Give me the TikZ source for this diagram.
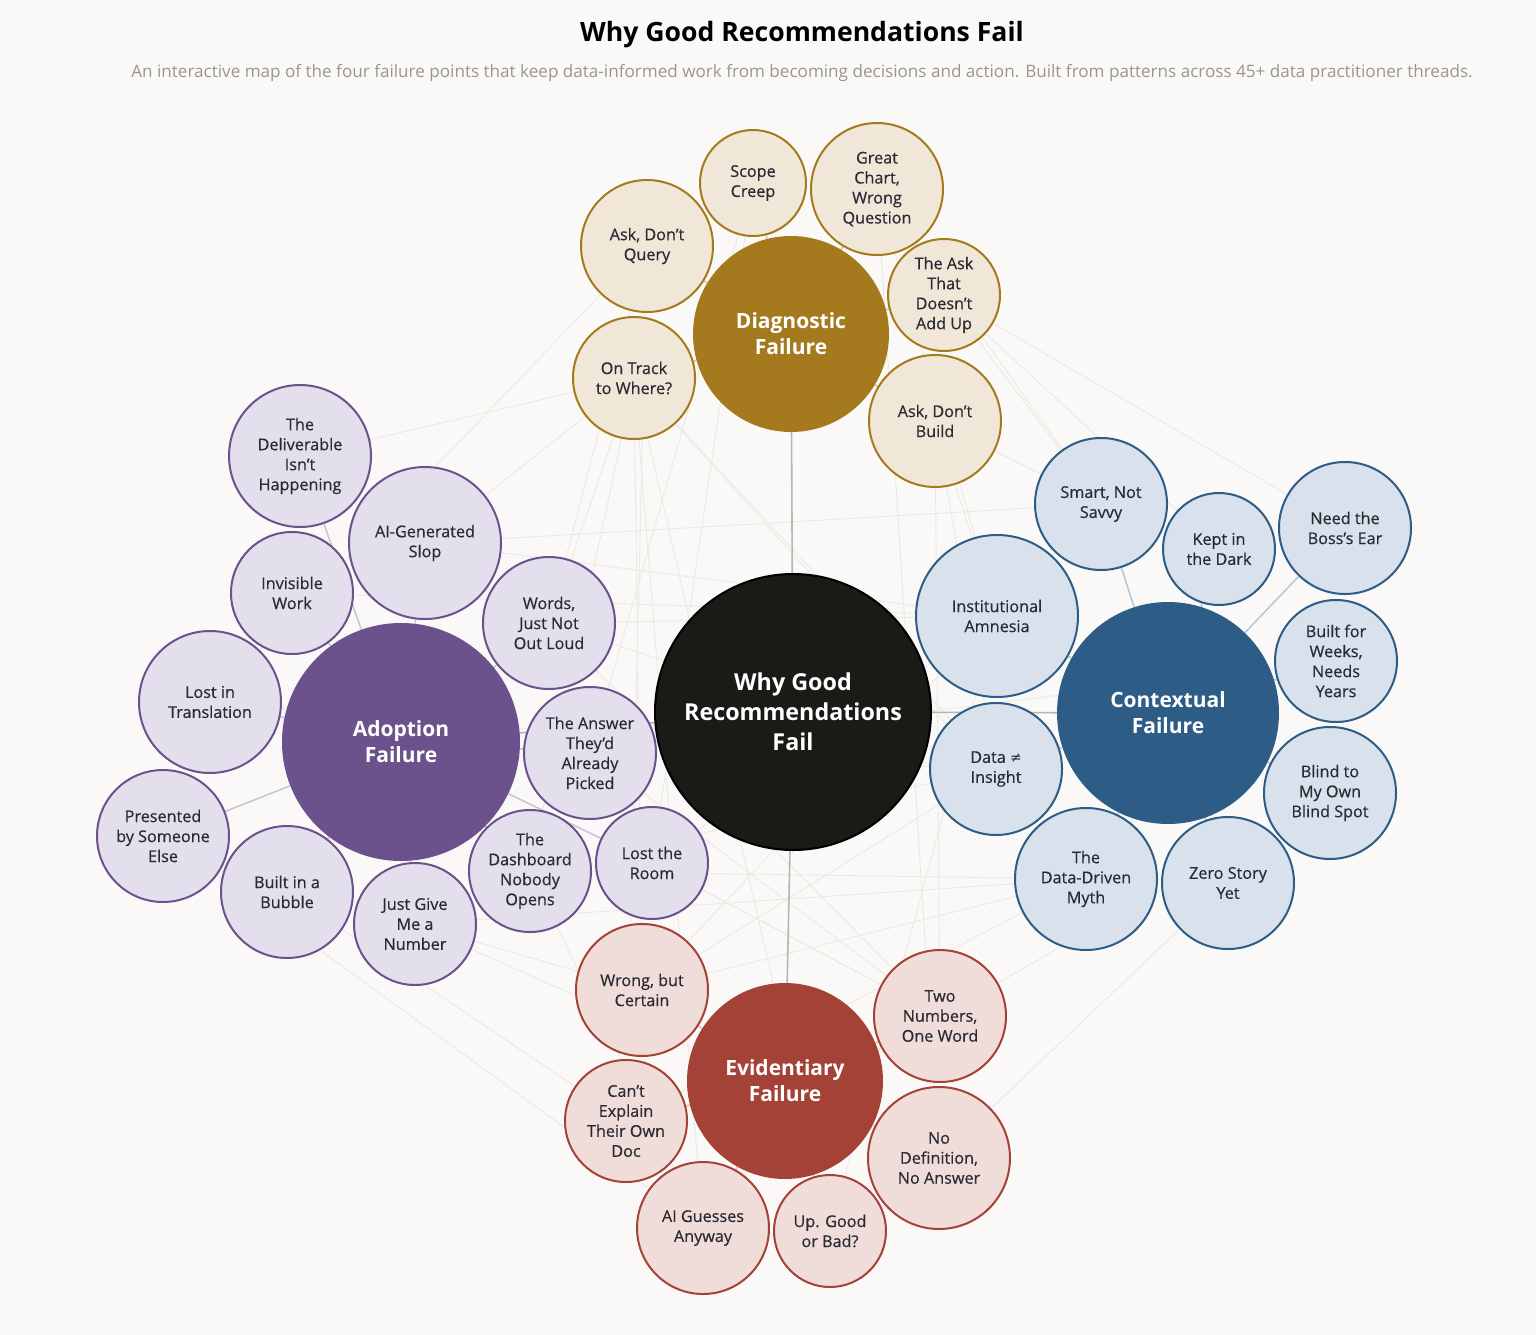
\documentclass[tikz,border=0pt]{standalone}
\usepackage{fontspec}
\setmainfont{Open Sans}
\newfontfamily\kidfont{Open Sans}[FakeBold=0.5]
\newfontfamily\symfont{DejaVu Sans}
\pgfdeclarelayer{bg}
\pgfsetlayers{bg,main}
\definecolor{bgc}{HTML}{FAF9F7}
\definecolor{txt}{HTML}{2A2A33}
\definecolor{sub}{HTML}{9A968F}
\definecolor{cross}{HTML}{ECE9E5}
\definecolor{hubln}{HTML}{B8B6B2}
\definecolor{ctrF}{HTML}{1C1A17}
\definecolor{dHub}{HTML}{A57A1F}
\definecolor{dFill}{HTML}{F0E7D8}
\definecolor{cHub}{HTML}{2D5C87}
\definecolor{cFill}{HTML}{D9E2EC}
\definecolor{aHub}{HTML}{6B528D}
\definecolor{aFill}{HTML}{E4DFEC}
\definecolor{eHub}{HTML}{A54238}
\definecolor{eFill}{HTML}{F0DCD9}
\tikzset{
  kid/.style={circle, draw, line width=2pt, inner sep=0pt, align=center, text=txt,
    font=\kidfont\fontsize{16.2}{20}\selectfont},
  kidD/.style={kid, fill=dFill, draw=dHub},
  kidC/.style={kid, fill=cFill, draw=cHub},
  kidA/.style={kid, fill=aFill, draw=aHub},
  kidE/.style={kid, fill=eFill, draw=eHub},
  hub/.style={circle, inner sep=0pt, align=center, text=white,
    font=\fontsize{21}{26}\selectfont\bfseries},
  crossln/.style={draw=cross, line width=0.9pt},
  hubkid/.style={line width=1.5pt},
  hubctr/.style={draw=hubln, line width=1.6pt},
}
\begin{document}
\begin{tikzpicture}[x=1pt,y=-1pt]
\useasboundingbox (0,0) rectangle (1536,1335);

% title
\node[font=\fontsize{26.6}{30}\selectfont\bfseries, text=black] (title) at (802,35) {Why Good Recommendations Fail};
\node[font=\fontsize{17.1}{20}\selectfont, text=sub] (subtitle) at (802,73) {An interactive map of the four failure points that keep data-informed work from becoming decisions and action. Built from patterns across 45+ data practitioner threads.};

% center and hubs
\node[hub, fill=ctrF, draw=black, line width=2pt, minimum size=276pt, font=\fontsize{23.3}{30}\selectfont\bfseries] (ctr) at (793,712) {Why Good\\Recommendations\\Fail};
\node[hub, fill=dHub, minimum size=196pt] (dh) at (791,334) {Diagnostic\\Failure};
\node[hub, fill=cHub, minimum size=222pt] (ch) at (1168,713) {Contextual\\Failure};
\node[hub, fill=aHub, minimum size=238pt] (ah) at (401,742) {Adoption\\Failure};
\node[hub, fill=eHub, minimum size=196pt] (eh) at (785,1081) {Evidentiary\\Failure};

% diagnostic children
\node[kidD, minimum size=106pt] (d1) at (753,183) {Scope\\Creep};
\node[kidD, minimum size=132pt] (d2) at (877,189) {Great\\Chart,\\Wrong\\Question};
\node[kidD, minimum size=132pt] (d3) at (647,246) {Ask, Don’t\\Query};
\node[kidD, minimum size=112pt] (d4) at (944,295) {The Ask\\That\\Doesn’t\\Add Up};
\node[kidD, minimum size=132pt] (d5) at (935,421) {Ask, Don’t\\Build};
\node[kidD, minimum size=122pt] (d6) at (634,378) {On Track\\to Where?};

% contextual children
\node[kidC, minimum size=132pt] (c1) at (1101,504) {Smart, Not\\Savvy};
\node[kidC, minimum size=112pt] (c2) at (1219,549) {Kept in\\the Dark};
\node[kidC, minimum size=132pt] (c3) at (1345,528) {Need the\\Boss’s Ear};
\node[kidC, minimum size=162pt] (c4) at (997,616) {Institutional\\Amnesia};
\node[kidC, minimum size=132pt] (c5) at (996,769) {Data {\symfont\fontsize{14}{14}\selectfont ≠}\\Insight};
\node[kidC, minimum size=122pt] (c6) at (1336,661) {Built for\\Weeks,\\Needs\\Years};
\node[kidC, minimum size=132pt] (c8) at (1330,793) {Blind to\\My Own\\Blind Spot};
\node[kidC, minimum size=142pt] (c9) at (1086,879) {The\\Data-Driven\\Myth};
\node[kidC, minimum size=132pt] (c10) at (1228,883) {Zero Story\\Yet};

% adoption children
\node[kidA, minimum size=142pt] (a1) at (300,456) {The\\Deliverable\\Isn’t\\Happening};
\node[kidA, minimum size=152pt] (a2) at (425,543) {AI-Generated\\Slop};
\node[kidA, minimum size=122pt] (a3) at (292,593) {Invisible\\Work};
\node[kidA, minimum size=132pt] (a4) at (549,623) {Words,\\Just Not\\Out Loud};
\node[kidA, minimum size=142pt] (a5) at (210,702) {Lost in\\Translation};
\node[kidA, minimum size=132pt] (a6) at (590,753) {The Answer\\They’d\\Already\\Picked};
\node[kidA, minimum size=132pt] (a7) at (163,836) {Presented\\by Someone\\Else};
\node[kidA, minimum size=132pt] (a8) at (287,892) {Built in a\\Bubble};
\node[kidA, minimum size=122pt] (a9) at (415,924) {Just Give\\Me a\\Number};
\node[kidA, minimum size=122pt] (a10) at (530,871) {The\\Dashboard\\Nobody\\Opens};
\node[kidA, minimum size=112pt] (a11) at (652,863) {Lost the\\Room};

% evidentiary children
\node[kidE, minimum size=132pt] (e1) at (642,990) {Wrong, but\\Certain};
\node[kidE, minimum size=132pt] (e2) at (940,1016) {Two\\Numbers,\\One Word};
\node[kidE, minimum size=122pt] (e3) at (626,1121) {Can’t\\Explain\\Their Own\\Doc};
\node[kidE, minimum size=142pt] (e4) at (939,1158) {No\\Definition,\\No Answer};
\node[kidE, minimum size=132pt] (e5) at (703,1228) {AI Guesses\\Anyway};
\node[kidE, minimum size=112pt] (e6) at (830,1231) {Up. Good\\or Bad?};

\begin{pgfonlayer}{bg}
  \fill[bgc] (0,0) rectangle (1536,1335);
  % faint cross links
  \foreach \p/\q in {d6/a1, d6/a2, d6/e1, d6/e6, d6/c9, d6/a4, d6/e5, d6/a10,
      d4/c3, d4/c2, d4/c1, d5/c1, d5/c5, d5/e2, d5/c4, d3/a5, d3/e3, d3/a4,
      d1/a11, d1/a6, d2/c4, d2/e4, d2/c1, a4/c4, a4/c5, a6/c5, a6/e2,
      a10/c9, a10/e5, a11/c4, a11/e2, a9/e1, a9/e4, a8/e3, a7/e5, a5/c5,
      a2/c1, a2/c4, c5/e1, c9/e1, c9/e3, c8/e2, c10/e4, c4/e6, c6/a6,
      e1/c1, e2/a11, c9/a9, c5/a10, a4/e2, d6/c5, a3/c4}
    \draw[crossln] (\p) -- (\q);
  % hub to child links
  \foreach \k in {d1,d2,d3,d4,d5,d6} \draw[hubkid, draw=dHub!45] (dh) -- (\k);
  \foreach \k in {c1,c2,c3,c4,c5,c6,c8,c9,c10} \draw[hubkid, draw=cHub!35] (ch) -- (\k);
  \foreach \k in {a1,a2,a3,a4,a5,a6,a7,a8,a9,a10,a11} \draw[hubkid, draw=aHub!35] (ah) -- (\k);
  \foreach \k in {e1,e2,e3,e4,e5,e6} \draw[hubkid, draw=eHub!35] (eh) -- (\k);
  % center to hubs
  \draw[hubctr] (ctr) -- (dh);
  \draw[hubctr] (ctr) -- (ch);
  \draw[hubctr] (ctr) -- (ah);
  \draw[hubctr] (ctr) -- (eh);
\end{pgfonlayer}
\end{tikzpicture}
\end{document}
